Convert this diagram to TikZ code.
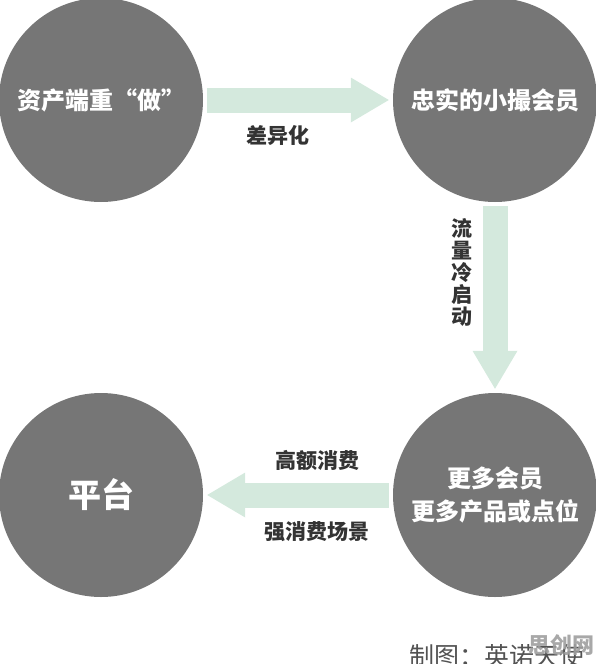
\documentclass[tikz,border=0pt]{standalone}
\usepackage{fontspec}
\usetikzlibrary{arrows.meta}
\newfontfamily\cjk{Noto Sans CJK SC}
\definecolor{circgray}{HTML}{767676}
\definecolor{flowgreen}{HTML}{D4E9DD}
\definecolor{labgray}{HTML}{333333}
\begin{document}
\begin{tikzpicture}[x=1pt,y=-1pt,
		circ/.style={circle,fill=circgray,minimum size=204pt,inner sep=0pt,text=white,align=center,
			font=\cjk\bfseries\fontsize{24pt}{33pt}\selectfont},
		flow/.style={draw=flowgreen,line width=25pt,shorten <=4pt,shorten >=4pt,
			-{Triangle[width=45pt,length=38pt,line width=0pt,fill=flowgreen]}},
		lab/.style={text=labgray,align=center,font=\cjk\bfseries\fontsize{21pt}{22pt}\selectfont}]
		
		% Page size
		\useasboundingbox (0,0) rectangle (596,664);
		
		% The four circles
		\node[circ] (zichan) at (101,100) {资产端重“做”};
		\node[circ] (zhongshi) at (495,100) {忠实的小撮会员};
		\node[circ] (gengduo) at (495,495) {更多会员\\更多产品或点位};
		\node[circ,font=\cjk\bfseries\fontsize{33pt}{36pt}\selectfont] (pingtai) at (101,495) {平台};
		
		% Arrows between the circles
		\draw[flow] (zichan) -- (zhongshi);
		\draw[flow] (zhongshi) -- (gengduo);
		\draw[flow] (gengduo) -- (pingtai);
		
		% Arrow labels
		\node[lab] (chayi) at (278,135) {差异化};
		\node[lab] (liuliang) at (462,272) {流\\量\\冷\\启\\动};
		\node[lab] (gaoe) at (317,460) {高额消费};
		\node[lab] (qiang) at (317,532) {强消费场景};
		
		% Credit line and watermark
		\node[anchor=west,text=labgray!85,font=\cjk\fontsize{25pt}{28pt}\selectfont] (zhitu) at (406,656) {制图：英诺天使};
		\node[text=gray!75,opacity=.9,font=\cjk\bfseries\fontsize{22pt}{24pt}\selectfont] (sichuang) at (561,645) {思创网};
		
	\end{tikzpicture}
\end{document}
